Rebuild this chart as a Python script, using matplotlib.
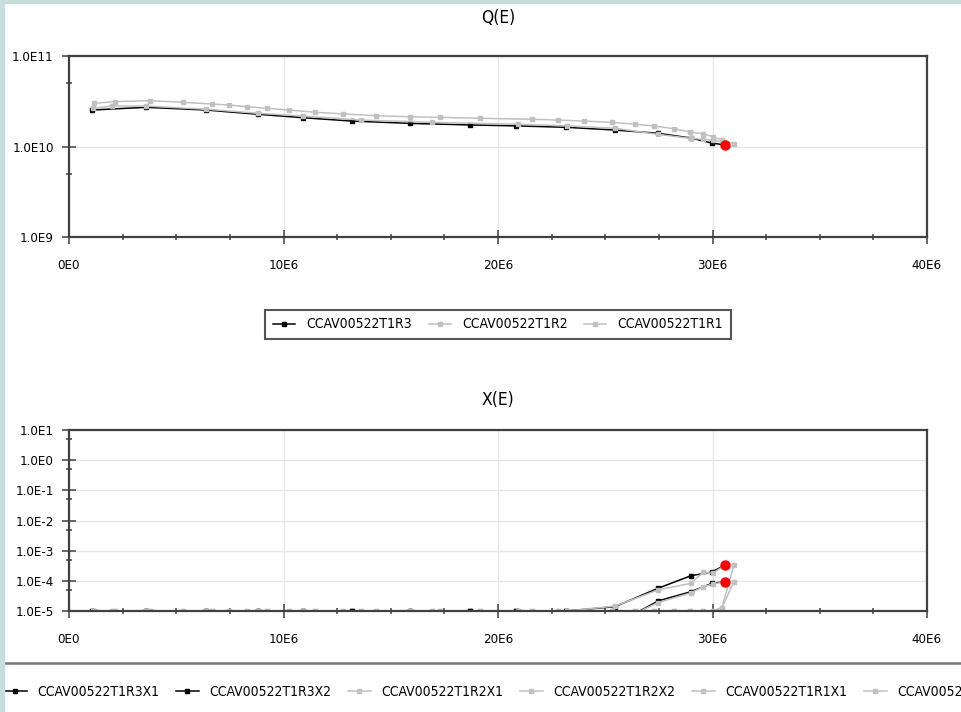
import matplotlib
matplotlib.use('Agg')
import matplotlib.pyplot as plt
from matplotlib.ticker import FixedLocator, FixedFormatter, NullFormatter
from matplotlib.patches import Rectangle

plt.rcParams['font.family'] = ['DejaVu Sans']
plt.rcParams['font.stretch'] = 'condensed'

# x positions (E6 units) of the three runs
r3_x = [1.07, 3.59, 6.39, 8.81, 10.91, 13.19, 15.90, 18.70, 20.84, 23.17, 25.45, 27.46, 29.00, 29.98, 30.58]
r2_x = [1.12, 2.00, 3.59, 6.39, 8.81, 10.91, 13.61, 16.92, 20.93, 23.22, 25.45, 27.46, 29.00, 29.56, 30.02, 30.58]
r1_x = [1.17, 2.14, 3.78, 5.31, 6.67, 7.46, 8.30, 9.23, 10.26, 11.47, 12.77, 14.31, 15.90, 17.30,
        19.16, 21.58, 22.80, 24.01, 25.31, 26.39, 27.27, 28.21, 28.95, 29.56, 30.02, 30.44, 31.00]

# Q(E), in E10 units
q_r3 = [2.53, 2.71, 2.53, 2.27, 2.08, 1.91, 1.80, 1.73, 1.69, 1.63, 1.52, 1.40, 1.24, 1.09, 1.04]
q_r2 = [2.64, 2.80, 2.80, 2.58, 2.33, 2.17, 1.96, 1.85, 1.76, 1.69, 1.59, 1.36, 1.23, 1.20, 1.18, 1.10]
q_r1 = [3.00, 3.13, 3.21, 3.08, 2.95, 2.87, 2.75, 2.64, 2.53, 2.39, 2.29, 2.19, 2.13, 2.10,
        2.05, 2.00, 1.96, 1.91, 1.85, 1.76, 1.69, 1.57, 1.45, 1.38, 1.28, 1.18, 1.07]

# X(E)
x_r3x1 = [1e-5, 1e-5, 1e-5, 1e-5, 1e-5, 1e-5, 1e-5, 1e-5, 1e-5, 1e-5, 1.39e-5, 5.66e-5, 1.48e-4, 1.96e-4, 3.35e-4]
x_r3x2 = [1e-5, 1e-5, 1e-5, 1e-5, 1e-5, 1e-5, 1e-5, 1e-5, 1e-5, 1e-5, 3.5e-6, 2.15e-5, 4.37e-5, 8.3e-5, 9.4e-5]
x_r2x1 = [1e-5, 1e-5, 1e-5, 1e-5, 1e-5, 1e-5, 1e-5, 1e-5, 1e-5, 1e-5, 1.45e-5, 5.0e-5, 8.3e-5, 1.9e-4, 1.8e-4, 3.3e-4]
x_r2x2 = [1e-5, 1e-5, 1e-5, 1e-5, 1e-5, 1e-5, 1e-5, 1e-5, 1e-5, 1e-5, 4e-6, 1.9e-5, 4.0e-5, 6.4e-5, 7.8e-5, 9.4e-5]
x_r1x1 = [1e-5, 1e-5, 1e-5, 1e-5, 1e-5, 1e-5, 1e-5, 1e-5, 1e-5, 1e-5, 1e-5, 1e-5, 1e-5, 1e-5,
          1e-5, 1e-5, 1e-5, 1e-5, 1e-5, 1e-5, 1e-5, 1e-5, 1e-5, 1e-5, 1e-5, 1.3e-5, 3.4e-4]
x_r1x2 = [1e-5, 1e-5, 1e-5, 1e-5, 1e-5, 1e-5, 1e-5, 1e-5, 1e-5, 1e-5, 1e-5, 1e-5, 1e-5, 1e-5,
          1e-5, 1e-5, 1e-5, 1e-5, 1e-5, 1e-5, 1e-5, 1e-5, 1e-5, 1e-5, 1e-5, 1.3e-5, 9.4e-5]

x_ticks = [0, 10e6, 20e6, 30e6, 40e6]
x_labels = ['0E0', '10E6', '20E6', '30E6', '40E6']
q_ticks = [1e9, 1e10, 1e11]
q_labels = ['1.0E9', '1.0E10', '1.0E11']
xe_ticks = [1e-5, 1e-4, 1e-3, 1e-2, 1e-1, 1e0, 1e1]
xe_labels = ['1.0E-5', '1.0E-4', '1.0E-3', '1.0E-2', '1.0E-1', '1.0E0', '1.0E1']

BLACK = '#000000'
GRAY = '#c0c0c0'
SPINE = '#404040'

def e6(v):
    return [a * 1e6 for a in v]

def e10(v):
    return [a * 1e10 for a in v]

fig = plt.figure(figsize=(9.61, 7.12), dpi=100)
fig.patches.append(Rectangle((0, 1 - 3/712), 1, 3/712, transform=fig.transFigure, color='#c6dfdb', zorder=10))
fig.patches.append(Rectangle((0, 0), 4/961, 1, transform=fig.transFigure, color='#c6dfdb', zorder=10))

ax1 = fig.add_axes([69/961, 1 - 237/712, 858/961, 181/712])
ax2 = fig.add_axes([69/961, 1 - 611/712, 858/961, 181/712])

def style(ax, yt, yl, yminor):
    ax.set_yscale('log')
    ax.set_xlim(0, 40e6)
    ax.set_ylim(yt[0], yt[-1])
    ax.xaxis.set_major_locator(FixedLocator(x_ticks))
    ax.xaxis.set_major_formatter(FixedFormatter(x_labels))
    ax.xaxis.set_minor_locator(FixedLocator([i * 2.5e6 for i in range(17)]))
    ax.yaxis.set_major_locator(FixedLocator(yt))
    ax.yaxis.set_major_formatter(FixedFormatter(yl))
    ax.yaxis.set_minor_locator(FixedLocator(yminor))
    ax.yaxis.set_minor_formatter(NullFormatter())
    ax.tick_params(which='major', direction='inout', length=10, width=1.1, color=SPINE, labelsize=9.5)
    ax.tick_params(which='minor', direction='inout', length=5, width=1.1, color=SPINE)
    ax.tick_params(axis='x', which='major', pad=11)
    ax.tick_params(axis='y', which='major', pad=6)
    for s in ax.spines.values():
        s.set_color(SPINE)
        s.set_linewidth(1.6)
    ax.grid(True, which='major', color='#e6e6e6', linewidth=1)
    ax.set_axisbelow(True)

style(ax1, q_ticks, q_labels, [5e9, 5e10])
style(ax2, xe_ticks, xe_labels, [5e-5, 5e-4, 5e-3, 5e-2, 5e-1, 5e0])

kw = dict(linewidth=1.1, marker='s', markersize=3.5)
l1, = ax1.plot(e6(r3_x), e10(q_r3), color=BLACK, label='CCAV00522T1R3', **kw)
l2, = ax1.plot(e6(r2_x), e10(q_r2), color=GRAY, label='CCAV00522T1R2', **kw)
l3, = ax1.plot(e6(r1_x), e10(q_r1), color=GRAY, label='CCAV00522T1R1', **kw)
ax1.plot(r3_x[-1] * 1e6, q_r3[-1] * 1e10, 'o', color='red', markersize=6.5, zorder=5)

m1, = ax2.plot(e6(r3_x), x_r3x1, color=BLACK, label='CCAV00522T1R3X1', **kw)
m2, = ax2.plot(e6(r3_x), x_r3x2, color=BLACK, label='CCAV00522T1R3X2', **kw)
m3, = ax2.plot(e6(r2_x), x_r2x1, color=GRAY, label='CCAV00522T1R2X1', **kw)
m4, = ax2.plot(e6(r2_x), x_r2x2, color=GRAY, label='CCAV00522T1R2X2', **kw)
m5, = ax2.plot(e6(r1_x), x_r1x1, color=GRAY, label='CCAV00522T1R1X1', **kw)
m6, = ax2.plot(e6(r1_x), x_r1x2, color=GRAY, label='CCAV00522T1R1X2', **kw)
ax2.plot([r3_x[-1] * 1e6] * 2, [x_r3x1[-1], x_r3x2[-1]], 'o', color='red', markersize=6.5, zorder=5)

fig.text(498/961, 1 - 18/712, 'Q(E)', ha='center', va='center', fontsize=12.5)
fig.text(498/961, 1 - 400/712, 'X(E)', ha='center', va='center', fontsize=12.5)

leg1 = fig.legend(handles=[l1, l2, l3], loc='center', bbox_to_anchor=(498/961, 1 - 324.5/712),
                  ncol=3, fancybox=False, edgecolor='#555555', framealpha=1, fontsize=10,
                  handlelength=1.6, handletextpad=0.8, columnspacing=1.2, borderpad=0.55)
leg1.get_frame().set_linewidth(1.5)
leg2 = fig.legend(handles=[m1, m2, m3, m4, m5, m6], loc='center', bbox_to_anchor=(512/961, 1 - 692/712),
                  ncol=6, fancybox=False, edgecolor='#777777', framealpha=1, fontsize=10,
                  handlelength=1.6, handletextpad=0.8, columnspacing=1.2, borderpad=1.6)
leg2.get_frame().set_linewidth(1.8)

fig.savefig('out.png', dpi=100)
